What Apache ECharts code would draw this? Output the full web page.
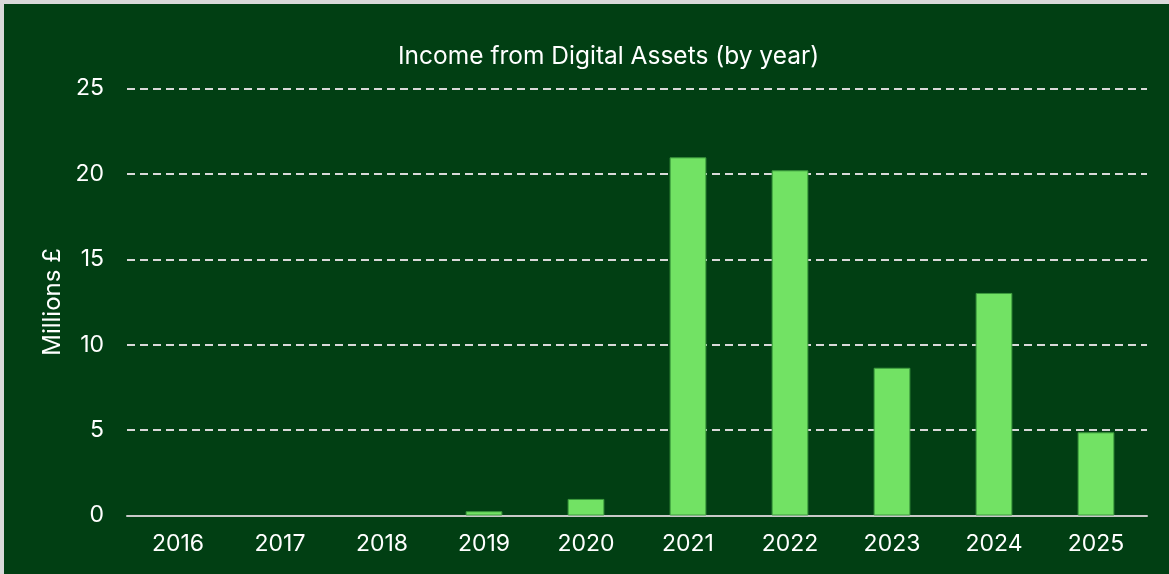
<!DOCTYPE html>
<html>
<head>
<meta charset="utf-8">
<script src="https://cdn.jsdelivr.net/npm/echarts@6/dist/echarts.min.js"></script>
<style>
  html, body { margin: 0; padding: 0; background: #d9d9d9; }
  #frame { position: absolute; left: 4px; top: 4px; width: 1165px; height: 570px; background: #013f13; }
  #chart { position: absolute; left: -4px; top: -4px; width: 1169px; height: 574px; }
</style>
</head>
<body>
<div id="frame"><div id="chart"></div></div>
<script>
// Annual income from digital assets, millions of pounds
const years = ['2016', '2017', '2018', '2019', '2020', '2021', '2022', '2023', '2024', '2025'];
const income = [0, 0, 0, 0.25, 0.97, 20.97, 20.21, 8.65, 13.03, 4.87];
const yTicks = { min: 0, max: 25, interval: 5 };

const chart = echarts.init(document.getElementById('chart'), null, { renderer: 'canvas' });
const font = 'Inter, "Noto Sans", sans-serif';

// empty years get no outline so nothing shows on the baseline
const barData = income.map(v => v === 0 ? { value: v, itemStyle: { borderWidth: 0 } } : v);

chart.setOption({
  backgroundColor: 'transparent',
  animation: false,
  textStyle: { fontFamily: font },
  title: {
    text: 'Income from Digital Assets (by year)',
    left: 393,
    top: 39,
    textStyle: { color: '#ffffff', fontSize: 24.5, fontWeight: 'normal', fontFamily: font }
  },
  grid: { left: 127, right: 22, top: 88.5, bottom: 58.5, containLabel: false },
  xAxis: {
    type: 'category',
    data: years,
    axisLine: { show: true, lineStyle: { color: '#c8c8c8', width: 2 } },
    axisTick: { show: false },
    axisLabel: { color: '#ffffff', fontSize: 23, margin: 17, fontFamily: font }
  },
  yAxis: {
    type: 'value',
    min: yTicks.min,
    max: yTicks.max,
    interval: yTicks.interval,
    name: 'Millions £',
    nameLocation: 'middle',
    nameGap: 60,
    nameRotate: 90,
    nameTextStyle: { color: '#ffffff', fontSize: 24, fontFamily: font },
    axisLine: { show: false },
    axisTick: { show: false },
    axisLabel: { color: '#ffffff', fontSize: 23, margin: 23, fontFamily: font },
    splitLine: { show: true, lineStyle: { color: '#d9d9d9', width: 2, type: [8, 5] } }
  },
  series: [{
    type: 'bar',
    data: barData,
    barWidth: '36%',
    itemStyle: { color: '#72e264', borderColor: '#3c9a3e', borderWidth: 1 }
  }]
});
</script>
</body>
</html>
